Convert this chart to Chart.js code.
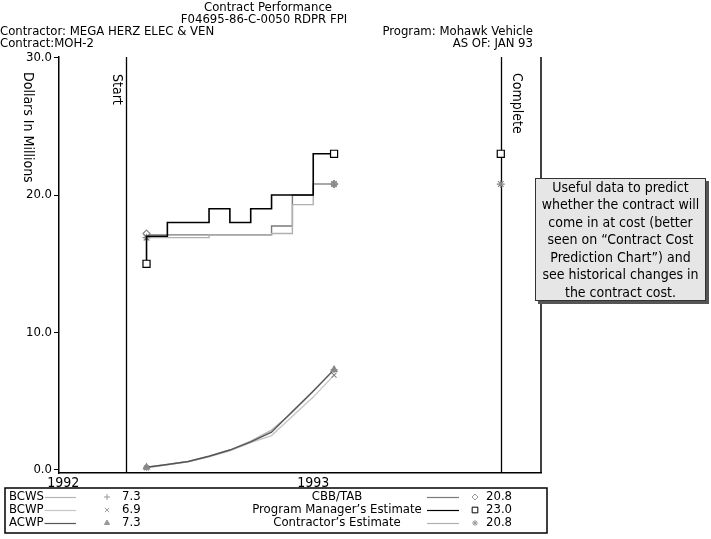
<!DOCTYPE html>
<html>
<head>
<meta charset="utf-8">
<script src="https://cdn.jsdelivr.net/npm/chart.js@4.4.1/dist/chart.umd.min.js"></script>
<style>
  html, body { margin: 0; padding: 0; background: #fff; }
  #wrap { width: 711px; height: 539px; }
</style>
</head>
<body>
<div id="wrap"><canvas id="perfChart" width="711" height="539"></canvas></div>
<script>
// months counted from Jan 1992 (0 = start of 1992)
const periodMonth = [4, 5, 6, 7, 8, 9, 10, 11, 12, 13];
const startMonth = 3;
const completeMonth = 21;
const yearTicks = [0, 12];
const yearLabels = ['1992', '1993'];
const yTicks = [0, 10, 20, 30];

const bcws = [0.2, 0.4, 0.62, 1.0, 1.45, 2.1, 2.9, 4.2, 5.7, 7.3];
const bcwp = [0.15, 0.38, 0.6, 0.95, 1.4, 2.0, 2.5, 3.9, 5.3, 6.9];
const acwp = [0.2, 0.4, 0.62, 1.0, 1.45, 2.05, 2.75, 4.25, 5.75, 7.3];
const cbbTab = [17.2, 17.1, 17.1, 17.1, 17.1, 17.1, 17.1, 17.75, 20.0, 20.8];
const pmEstimate = [15.0, 17.0, 18.0, 18.0, 19.0, 18.0, 19.0, 20.0, 20.0, 23.0];
const ctrEstimate = [16.9, 16.9, 16.9, 16.9, 17.1, 17.1, 17.1, 17.2, 19.3, 20.8];

const FONT = '"Liberation Sans Narrow", "DejaVu Sans Condensed", "Open Sans", sans-serif';

function pts(vals) {
    return vals.map((v, i) => ({ x: periodMonth[i], y: v }));
}

function endsOnly(r) {
    return (ctx) => (ctx.dataIndex === 0 || ctx.dataIndex === periodMonth.length - 1) ? r : 0;
}

const series = [
    { label: 'BCWS', data: bcws, color: '#b4b4b4', style: 'cross', r: 3.5, side: 'left' },
    { label: 'BCWP', data: bcwp, color: '#c6c6c6', style: 'crossRot', r: 3.5, side: 'left' },
    { label: 'ACWP', data: acwp, color: '#555555', style: 'triangle', r: 3.5, side: 'left' },
    { label: 'CBB/TAB', data: cbbTab, color: '#7a7a7a', style: 'rectRot', r: 3.5, side: 'right', step: true },
    { label: 'Program Manager\u2019s Estimate', data: pmEstimate, color: '#000000', style: 'rect', r: 5, side: 'right', step: true },
    { label: 'Contractor\u2019s Estimate', data: ctrEstimate, color: '#b0b0b0', style: 'star', r: 4, side: 'right', step: true }
];

const datasets = series.map((s, i) => ({
    label: s.label,
    data: pts(s.data),
    borderColor: s.color,
    borderWidth: s.color === '#000000' ? 1.6 : 1.4,
    stepped: s.step ? 'after' : false,
    tension: 0,
    pointStyle: s.style,
    pointRadius: endsOnly(s.r),
    pointBorderColor: s.style === 'rect' ? '#000' : '#888',
    pointBackgroundColor: (s.style === 'rect' || s.style === 'rectRot') ? '#fff' : '#888',
    pointBorderWidth: 1.2,
    order: s.color === '#000000' ? 0 : 6 - i
}));

// estimates at completion
datasets.push({
    type: 'scatter', label: 'pm-complete',
    data: [{ x: completeMonth, y: pmEstimate[pmEstimate.length - 1] }],
    pointStyle: 'rect', pointRadius: 5, pointBorderColor: '#000', pointBackgroundColor: '#fff', pointBorderWidth: 1.2, order: 0
});
datasets.push({
    type: 'scatter', label: 'ce-complete',
    data: [{ x: completeMonth, y: ctrEstimate[ctrEstimate.length - 1] }],
    pointStyle: 'star', pointRadius: 4, pointBorderColor: '#888', pointBackgroundColor: '#888', pointBorderWidth: 1.2, order: 1
});

function mark(ctx, style, r, color, x, y) {
    ctx.save();
    ctx.strokeStyle = color;
    ctx.fillStyle = (style === 'rect' || style === 'rectRot') ? '#fff' : color;
    ctx.lineWidth = 1;
    Chart.helpers.drawPoint(ctx, { pointStyle: style, radius: r, rotation: 0, borderWidth: 1 }, x, y);
    ctx.restore();
}

function vText(ctx, txt, x, y, font) {
    ctx.save();
    ctx.translate(x, y);
    ctx.rotate(Math.PI / 2);
    ctx.font = font;
    ctx.textAlign = 'left';
    ctx.textBaseline = 'middle';
    ctx.fillText(txt, 0, 0);
    ctx.restore();
}

const decorPlugin = {
    id: 'decor',
    beforeDatasetsDraw(chart) {
        const { ctx, chartArea: a, scales } = chart;
        ctx.save();
        ctx.strokeStyle = '#000';
        ctx.lineWidth = 1.3;
        [startMonth, completeMonth].forEach(m => {
            const x = Math.round(scales.x.getPixelForValue(m)) + 0.5;
            ctx.beginPath();
            ctx.moveTo(x, a.top);
            ctx.lineTo(x, a.bottom);
            ctx.stroke();
        });
        ctx.lineWidth = 1.5;
        ctx.beginPath();
        ctx.moveTo(a.right, a.top);
        ctx.lineTo(a.right, a.bottom);
        ctx.stroke();
        ctx.restore();
    },
    afterDraw(chart) {
        const { ctx, scales } = chart;
        ctx.save();
        ctx.fillStyle = '#000';

        // header
        ctx.font = '13px ' + FONT;
        ctx.textBaseline = 'middle';
        ctx.textAlign = 'center';
        ctx.fillText('Contract Performance', 268, 8);
        ctx.fillText('F04695-86-C-0050 RDPR FPI', 264, 20);
        ctx.textAlign = 'left';
        ctx.fillText('Contractor: MEGA HERZ ELEC & VEN', 0, 32);
        ctx.fillText('Contract:MOH-2', 0, 44);
        ctx.textAlign = 'right';
        ctx.fillText('Program: Mohawk Vehicle', 533, 32);
        ctx.fillText('AS OF: JAN 93', 533, 44);

        // rotated labels
        vText(ctx, 'Dollars In Millions', 28, 72, '14px ' + FONT);
        const xs = scales.x.getPixelForValue(startMonth);
        const xc = scales.x.getPixelForValue(completeMonth);
        vText(ctx, 'Start', xs - 9, 74, '14px ' + FONT);
        vText(ctx, 'Complete', xc + 16, 73, '14px ' + FONT);

        // callout box
        const bx = 535, by = 178, bw = 171, bh = 123;
        ctx.fillStyle = '#555';
        ctx.fillRect(bx + 3, by + 3, bw, bh);
        ctx.fillStyle = '#e6e6e6';
        ctx.fillRect(bx, by, bw, bh);
        ctx.strokeStyle = '#333';
        ctx.lineWidth = 1;
        ctx.strokeRect(bx + 0.5, by + 0.5, bw - 1, bh - 1);
        ctx.fillStyle = '#000';
        ctx.font = '14px ' + FONT;
        ctx.textAlign = 'center';
        const note = ['Useful data to predict', 'whether the contract will', 'come in at cost (better',
            'seen on \u201cContract Cost', 'Prediction Chart\u201d) and', 'see historical changes in', 'the contract cost.'];
        note.forEach((t, i) => ctx.fillText(t, bx + bw / 2, by + 10 + i * 17.5));

        // legend box
        ctx.strokeStyle = '#000';
        ctx.lineWidth = 1.5;
        ctx.strokeRect(5, 488, 542, 45);
        ctx.font = '13px ' + FONT;
        const rowY = [497, 510, 523];
        let li = 0, ri = 0;
        series.forEach(s => {
            const last = s.data[s.data.length - 1].toFixed(1);
            let y, lx0, lx1, mx, vx;
            ctx.fillStyle = '#000';
            if (s.side === 'left') {
                y = rowY[li++];
                ctx.textAlign = 'left';
                ctx.fillText(s.label, 9, y);
                lx0 = ctx.measureText(s.label).width + 10; lx1 = 76; mx = 107; vx = 122;
            } else {
                y = rowY[ri++];
                ctx.textAlign = 'center';
                ctx.fillText(s.label, 337, y);
                lx0 = 427; lx1 = 459; mx = 475; vx = 486;
            }
            ctx.strokeStyle = s.color;
            ctx.lineWidth = 1.2;
            ctx.beginPath();
            ctx.moveTo(lx0, y + 0.5);
            ctx.lineTo(lx1, y + 0.5);
            ctx.stroke();
            mark(ctx, s.style, s.style === 'rect' ? 4 : 3, s.style === 'rect' ? '#000' : '#999', mx, y);
            ctx.fillStyle = '#000';
            ctx.textAlign = 'left';
            ctx.fillText(last, vx, y);
        });
        ctx.restore();
    }
};

new Chart(document.getElementById('perfChart'), {
    type: 'line',
    data: { datasets: datasets },
    options: {
        responsive: false,
        animation: false,
        devicePixelRatio: 1,
        layout: { padding: { top: 57, right: 170, left: 0, bottom: 0 } },
        plugins: { legend: { display: false }, tooltip: { enabled: false }, title: { display: false } },
        scales: {
            x: {
                type: 'linear',
                min: -0.2,
                max: 22.93,
                afterBuildTicks: (scale) => { scale.ticks = yearTicks.map(v => ({ value: v })); },
                afterFit: (scale) => { scale.height = 66; },
                ticks: {
                    color: '#000',
                    font: { family: FONT, size: 14 },
                    padding: 2,
                    maxRotation: 0,
                    callback: (v) => yearLabels[yearTicks.indexOf(v)]
                },
                grid: { display: false, drawTicks: false, tickLength: 0 },
                border: { display: true, color: '#000', width: 1.5 }
            },
            y: {
                min: -0.22,
                max: 30.04,
                afterBuildTicks: (scale) => { scale.ticks = yTicks.map(v => ({ value: v })); },
                afterFit: (scale) => { scale.width = 59; },
                ticks: {
                    color: '#000',
                    font: { family: FONT, size: 13 },
                    padding: 2,
                    callback: (v) => Number(v).toFixed(1)
                },
                grid: { drawOnChartArea: false, drawTicks: true, tickLength: 5, color: '#000' },
                border: { display: true, color: '#000', width: 1.5 }
            }
        }
    },
    plugins: [decorPlugin]
});
</script>
</body>
</html>
